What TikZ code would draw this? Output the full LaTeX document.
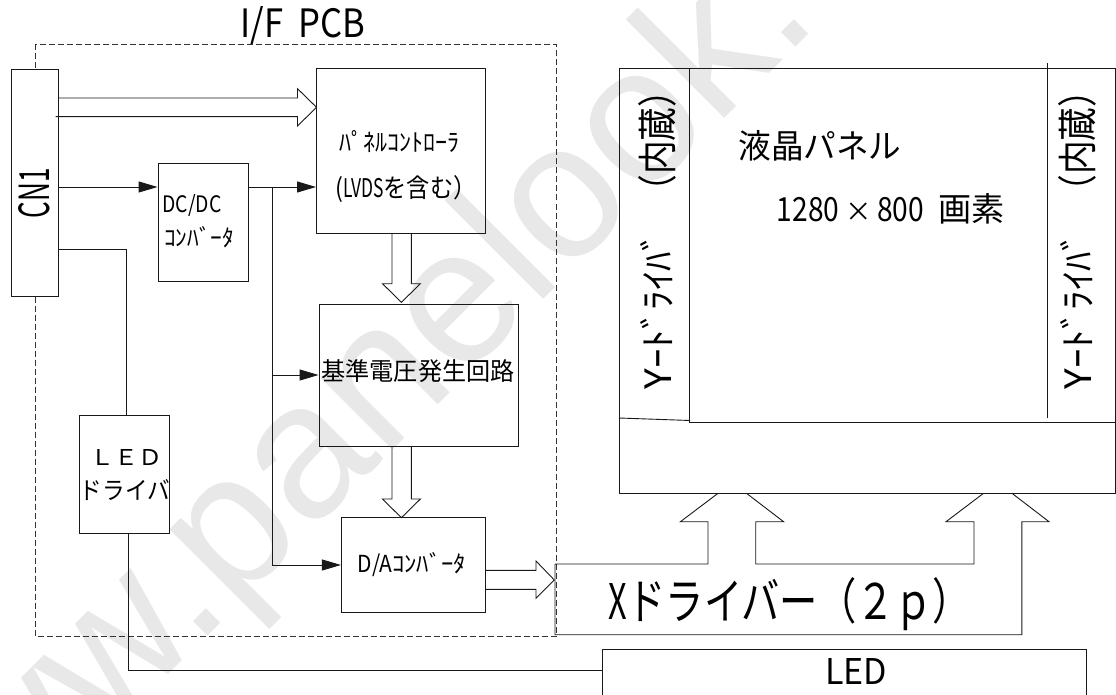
\documentclass[tikz,border=0pt]{standalone}
\usepackage{fontspec}
\usepackage{graphicx}
\setmainfont{Noto Sans CJK JP}
\newfontfamily\wmfont{Liberation Sans}
\newcommand{\fitbox}[3]{\resizebox{#1pt}{#2pt}{#3}}
\newcommand{\nrw}[2][.8]{\scalebox{#1}[1]{#2}}
\usetikzlibrary{arrows.meta}
\tikzset{
  x=1pt,y=-1pt,
  line/.style={draw=black!90,line width=.9pt},
  blockbox/.style={draw=black!90,line width=.9pt,fill=none},
  label/.style={inner sep=0pt,outer sep=0pt,anchor=center,text=black},
  solidarrow/.style={draw=black!90,line width=.9pt,-{Triangle[length=19pt,width=11pt]}},
}
\begin{document}
\begin{tikzpicture}
\useasboundingbox (0,0) rectangle (1116,695);
\clip (0,0) rectangle (1116,695);
\fill[white] (0,0) rectangle (1116,695);
% watermark
\node[rotate=45,text=black!9,inner sep=0pt] (wm) at (330,443) {\fontsize{192}{192}\wmfont www.panelook.};
% dashed board
\coordinate (dtl) at (35,44.5);
\coordinate (dbr) at (556,636);
\draw[draw=black!80,line width=.8pt,dash pattern=on 6pt off 3pt] (dtl) rectangle (dbr);
% blocks
\node[blockbox,fill=white,minimum width=47pt,minimum height=227pt,inner sep=0pt] (cn) at (35,182.5) {};
\node[label,rotate=90] (cnt) at (34,193) {\fitbox{50}{31}{CN1}};
\node[blockbox,minimum width=168.5pt,minimum height=165pt,inner sep=0pt] (pc) at (400.75,151.2) {};
\node[label] (pct1) at (399,142) {\fitbox{120}{21}{ﾊﾟﾈﾙｺﾝﾄﾛｰﾗ}};
\node[label] (pct2) at (406,189) {\fitbox{141}{22}{(\nrw[.75]{LVDS}を含む）}};
\node[blockbox,minimum width=90pt,minimum height=118pt,inner sep=0pt] (dc) at (203,222.3) {};
\node[label] (dct1) at (192,206) {\fitbox{59}{18}{DC/DC}};
\node[label] (dct2) at (199,237) {\fitbox{70}{20}{ｺﾝﾊﾞｰﾀ}};
\node[blockbox,minimum width=199.6pt,minimum height=142.4pt,inner sep=0pt] (ref) at (418.8,375.5) {};
\node[label] (reft) at (418,371) {\fitbox{193}{21}{基準電圧発生回路}};
\node[blockbox,minimum width=143.6pt,minimum height=94.6pt,inner sep=0pt] (da) at (413.2,565) {};
\node[label] (dat) at (412,565) {\fitbox{108}{20}{\nrw[.85]{D/A}ｺﾝﾊﾞｰﾀ}};
\node[blockbox,fill=white,minimum width=90pt,minimum height=118.4pt,inner sep=0pt] (drv) at (124.3,474.5) {};
\node[label] (drvt1) at (126,457) {\fitbox{72}{16}{ＬＥＤ}};
\node[label] (drvt2) at (125,490) {\fitbox{90}{20}{ドライバ}};
\node[label] (board) at (303,25) {\fitbox{125}{31}{I/F\ \ PCB}};
% LED bar
\draw[line] (602,700) -- (602,649) -- (1086.4,649) -- (1086.4,700);
\coordinate (ledL) at (602,670.3);
\node[label] (ledt) at (856,671.7) {\fitbox{62}{26}{LED}};
% hollow arrows
\draw[line] (cn.east |- 0,98) -- (297.5,98) -- (297.5,88.7) -- (316.5,107.3) -- (297.5,126) -- (297.5,116.7) -- (55.7,116.7);
\draw[line] (392,233.7) -- (392,283.7) -- (382.5,283.7) -- (401.4,302.3) -- (420.4,283.7) -- (411.4,283.7) -- (411.4,233.7);
\draw[line] (392,446.7) -- (392,499) -- (382.5,499) -- (401.4,517.7) -- (420.4,499) -- (411.4,499) -- (411.4,446.7);
\draw[line] (da.east |- 0,570.3) -- (536,570.3) -- (536,561) -- (554.3,580) -- (536,598.3) -- (536,589.3) -- (da.east |- 0,589.3);
% solid connectors
\draw[solidarrow] (cn.east |- 0,187) -- (dc.west |- 0,187);
\draw[solidarrow] (dc.east |- 0,187) -- (pc.west |- 0,187);
\coordinate (bus) at (272,187);
\draw[line] (bus) -- (272,565);
\draw[solidarrow] (272,375) -- (ref.west |- 0,375);
\draw[solidarrow] (272,565) -- (da.west |- 0,565);
\draw[line] (cn.east |- 0,249.3) -- (126,249.3) -- (126,415.3);
\draw[line] (128,533.7) -- (128,670.3) -- (ledL);
% LCD module
\draw[line] (619,68.3) rectangle (1115.5,493.7);
\draw[line] (689.6,68.3) -- (689.6,422.7) -- (1115.5,422.7);
\draw[line] (619,418) -- (690,420.5);
\draw[line] (1047.4,63) -- (1047.4,417.7);
\node[label] (lcd1) at (820,146) {\fitbox{163}{28}{液晶パネル}};
\node[label] (lcd2) at (891,209) {\fitbox{228}{28}{\nrw[.85]{1280}\,\scalebox{.8}{×}\,\nrw[.85]{800}\ \ 画素}};
\node[label,rotate=90] (yl1) at (657,311) {\fitbox{157}{31}{Yｰﾄﾞﾗｲﾊﾞ}};
\node[label,rotate=90] (yl2) at (657,141) {\fitbox{135}{34}{（内蔵）}};
\node[label,rotate=90] (yr1) at (1077,311) {\fitbox{157}{31}{Yｰﾄﾞﾗｲﾊﾞ}};
\node[label,rotate=90] (yr2) at (1077,141) {\fitbox{135}{34}{（内蔵）}};
% X driver outline
\draw[line] (555,564) -- (708,564) -- (708,521.7) -- (680.4,521.7) -- (717.5,493.7)
  (747,493.7) -- (783.6,521.7) -- (755.7,521.7) -- (755.7,564) -- (974,564) -- (974,521.7) -- (946,521.7) -- (983,493.7)
  (1012.5,493.7) -- (1049,521.7) -- (1021.8,521.7) -- (1021.8,634.7) -- (555,634.7) -- (555,564);
\node[label] (xd) at (790,604) {\fitbox{362}{42}{\nrw[.85]{X}ドライバー（２ｐ）}};
\end{tikzpicture}
\end{document}
